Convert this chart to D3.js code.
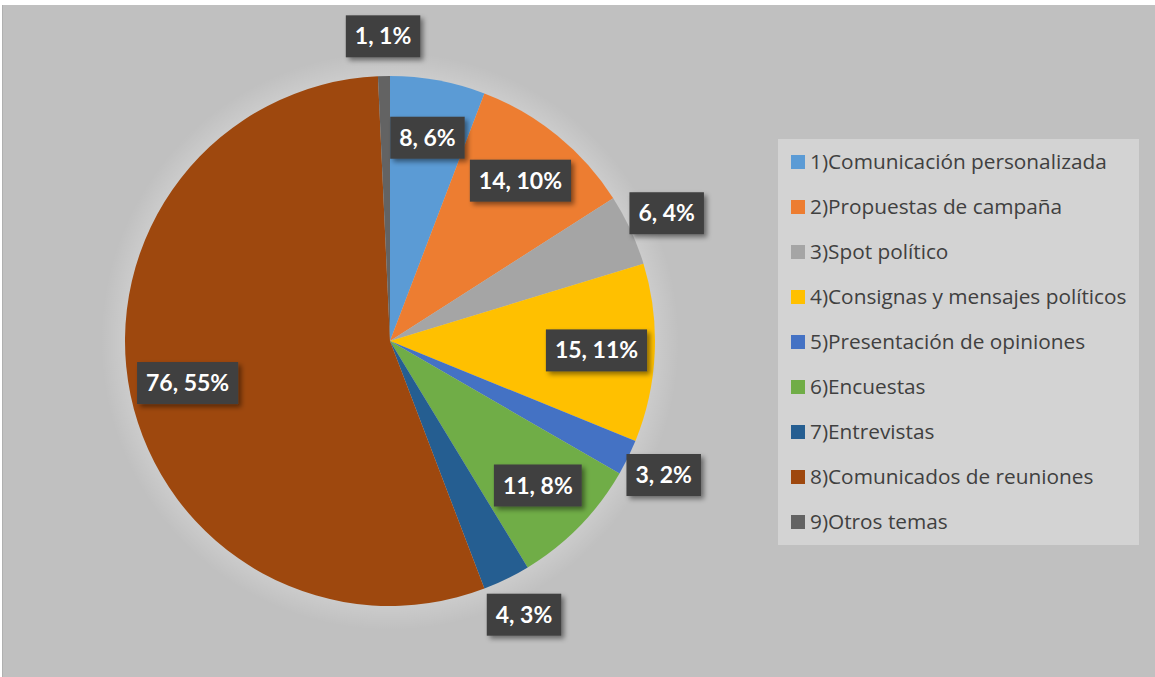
<!DOCTYPE html>
<html>
<head>
<meta charset="utf-8">
<script src="https://cdn.jsdelivr.net/npm/d3@7"></script>
<style>
  html, body { margin: 0; padding: 0; background: #fff; }
  svg { display: block; }
  .leg-text { font-family: "Open Sans", Lato, sans-serif; fill: #404040; }
  .lbl-text { font-family: Lato, "Open Sans", sans-serif; font-weight: 700; fill: #fff; }
</style>
</head>
<body>
<div id="chart"></div>
<script>
/* pie: topics of political communication, count + share */

const CATEGORIES = [
  '1)Comunicación personalizada',
  '2)Propuestas de campaña',
  '3)Spot político',
  '4)Consignas y mensajes políticos',
  '5)Presentación de opiniones',
  '6)Encuestas',
  '7)Entrevistas',
  '8)Comunicados de reuniones',
  '9)Otros temas'
];
const VALUES = [8, 14, 6, 15, 3, 11, 4, 76, 1];
const COLORS = ['#5b9bd5', '#ed7d31', '#a5a5a5', '#ffc000', '#4472c4', '#70ad47', '#255e91', '#9e480e', '#636363'];

const W = 1155, H = 677;
const CX = 390, CY = 341, R = 265;
const LEG = { x: 778, y: 139, w: 361, h: 406, rowH: 45 };

const total = d3.sum(VALUES);
const data = CATEGORIES.map((c, i) => ({ name: c, value: VALUES[i], color: COLORS[i] }));

const svg = d3.select('#chart').append('svg')
  .attr('width', W).attr('height', H)
  .attr('viewBox', `0 0 ${W} ${H}`);

const defs = svg.append('defs');
const glow = defs.append('radialGradient').attr('id', 'glow')
  .attr('gradientUnits', 'userSpaceOnUse')
  .attr('cx', CX).attr('cy', CY).attr('r', R + 24);
glow.append('stop').attr('offset', R / (R + 24)).attr('stop-color', '#fff').attr('stop-opacity', 0.18);
glow.append('stop').attr('offset', 1).attr('stop-color', '#fff').attr('stop-opacity', 0);

const shadow = defs.append('filter').attr('id', 'shd')
  .attr('x', '-20%').attr('y', '-30%').attr('width', '150%').attr('height', '180%');
shadow.append('feDropShadow').attr('dx', 3).attr('dy', 3).attr('stdDeviation', 2.5)
  .attr('flood-color', '#000').attr('flood-opacity', 0.45);

/* chart area */
svg.append('rect').attr('x', 2).attr('y', 5).attr('width', W - 2).attr('height', H - 5)
  .attr('fill', '#c0c0c0');
svg.append('line').attr('x1', 2.5).attr('x2', 2.5).attr('y1', 5).attr('y2', H)
  .attr('stroke', '#b0b0b0');

/* soft halo round the pie */
svg.append('circle').attr('cx', CX).attr('cy', CY).attr('r', R + 24).attr('fill', 'url(#glow)');

const pie = d3.pie().value((d) => d.value).sort(null);
const arcs = pie(data);
const arc = d3.arc().innerRadius(0).outerRadius(R);

const g = svg.append('g').attr('transform', `translate(${CX},${CY})`);
g.selectAll('path').data(arcs).join('path')
  .attr('d', arc)
  .attr('fill', (d) => d.data.color);

/* data labels: small slices sit outside the rim */
const inArc = d3.arc().innerRadius(R * 0.78).outerRadius(R * 0.78);
const outArc = d3.arc().innerRadius(R * 1.15).outerRadius(R * 1.15);
const lab = g.selectAll('g.lbl').data(arcs).join('g').attr('class', 'lbl')
  .attr('transform', (d) => {
    const share = d.data.value / total;
    const p = (share < 0.05 ? outArc : inArc).centroid(d);
    return `translate(${p[0]},${p[1]})`;
  });

lab.append('text').attr('class', 'lbl-text')
  .attr('text-anchor', 'middle').attr('dy', '0.35em')
  .attr('font-size', 23)
  .text((d) => `${d.data.value}, ${Math.round(d.data.value / total * 100)}%`);

lab.each(function () {
  const t = d3.select(this).select('text');
  const b = t.node().getBBox();
  d3.select(this).insert('rect', 'text')
    .attr('x', b.x - 9).attr('y', -21)
    .attr('width', b.width + 18).attr('height', 42)
    .attr('fill', '#404040')
    .attr('filter', 'url(#shd)');
});

/* legend */
const leg = svg.append('g');
leg.append('rect').attr('x', LEG.x).attr('y', LEG.y).attr('width', LEG.w).attr('height', LEG.h)
  .attr('fill', '#d3d3d3');
const rows = leg.selectAll('g.row').data(data).join('g').attr('class', 'row')
  .attr('transform', (d, i) => `translate(${LEG.x + 13},${LEG.y + 23 + i * LEG.rowH})`);
rows.append('rect').attr('x', 0).attr('y', -7).attr('width', 14).attr('height', 14)
  .attr('fill', (d) => d.color);
rows.append('text').attr('class', 'leg-text')
  .attr('x', 19).attr('dy', '0.35em')
  .attr('font-size', 20.8)
  .text((d) => d.name);
</script>
</body>
</html>
